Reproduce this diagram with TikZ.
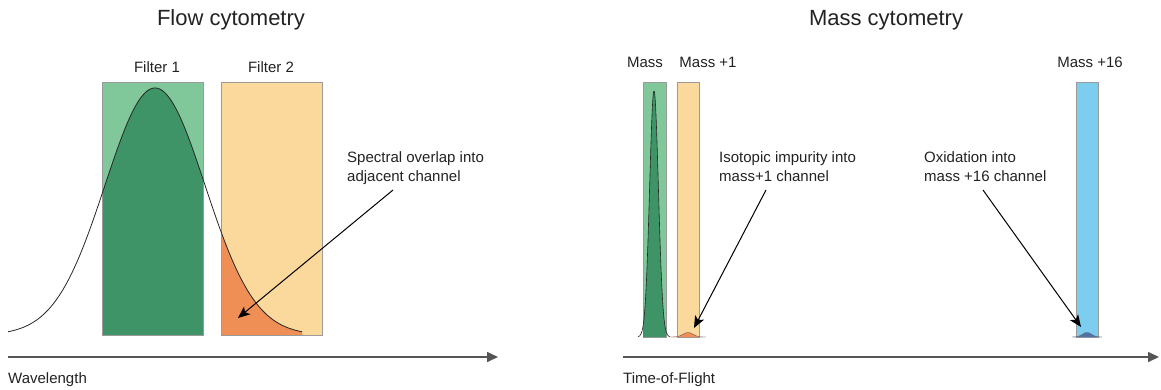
\documentclass[tikz,border=0pt]{standalone}
\usepackage{fontspec}
\setmainfont{Liberation Sans}
\usetikzlibrary{arrows.meta}
\definecolor{lgreen}{HTML}{80C79A}
\definecolor{dgreen}{HTML}{3E9466}
\definecolor{lorange}{HTML}{FBD89C}
\definecolor{dorange}{HTML}{EF8F55}
\definecolor{lblue}{HTML}{7DCDF0}
\definecolor{dblue}{HTML}{4F72A8}
\definecolor{rectgray}{HTML}{9A9A9A}
\definecolor{axisgray}{HTML}{555555}
\definecolor{txt}{HTML}{222222}
\tikzset{
  title/.style={font=\fontsize{22}{26}\selectfont, text=txt, inner sep=0pt},
  lab/.style={font=\fontsize{15}{19}\selectfont, text=txt, inner sep=0pt},
  note/.style={font=\fontsize{15}{19}\selectfont, text=txt, inner sep=0pt, align=left, anchor=north west},
  chan/.style={draw=rectgray, line width=0.8pt, inner sep=0pt, outer sep=0pt, anchor=south west},
  axis/.style={draw=axisgray, line width=1.6pt, -{Stealth[length=11pt,width=10pt,inset=0pt]}},
  pointer/.style={draw=black, line width=1pt, -{Stealth[length=12pt,width=10pt,inset=3pt]}},
  curve/.style={draw=black!85, line width=0.8pt},
}
\begin{document}
\begin{tikzpicture}[x=1pt,y=-1pt]
\useasboundingbox (0,0) rectangle (1161,389);

% ---------------- Flow cytometry ----------------
\node[title] (t1) at (231,20) {Flow cytometry};

\node[chan, fill=lgreen, minimum width=101pt, minimum height=253pt] (f1) at (102,335) {};
\node[chan, fill=lorange, minimum width=101pt, minimum height=253pt] (f2) at (221,335) {};

\begin{scope}
  \clip (f1.south west) rectangle (f1.north east);
  \fill[dgreen] (8,335) -- plot[domain=8:302, samples=150, smooth] (\x,{335-247*exp(-0.5*((\x-155)/50)^2)}) -- (302,335) -- cycle;
\end{scope}
\begin{scope}
  \clip (f2.south west) rectangle (f2.north east);
  \fill[dorange] (8,335) -- plot[domain=8:302, samples=150, smooth] (\x,{335-247*exp(-0.5*((\x-155)/50)^2)}) -- (302,335) -- cycle;
\end{scope}
\draw[chan, fill=none] (f1.south west) rectangle (f1.north east);
\draw[chan, fill=none] (f2.south west) rectangle (f2.north east);
\draw[curve] plot[domain=8:302, samples=150, smooth] (\x,{335-247*exp(-0.5*((\x-155)/50)^2)});

\node[lab] (f1l) at (157,67) {Filter 1};
\node[lab] (f2l) at (271,67) {Filter 2};

\node[note] (n1) at (347,151) {Spectral overlap into\\adjacent channel};
\coordinate (n1s) at (393,190);
\coordinate (n1e) at (238,318);
\draw[pointer] (n1s) -- (n1e);

\coordinate (ax1s) at (8,357);
\coordinate (ax1e) at (498,357);
\draw[axis] (ax1s) -- (ax1e);
\node[lab, anchor=base west] (w) at (8,383) {Wavelength};

% ---------------- Mass cytometry ----------------
\node[title] (t2) at (886,20) {Mass cytometry};

\node[chan, fill=lgreen, minimum width=23pt, minimum height=255pt] (m0) at (643,337) {};
\node[chan, fill=lorange, minimum width=22pt, minimum height=255pt] (m1) at (677,337) {};
\node[chan, fill=lblue, minimum width=22pt, minimum height=255pt] (m16) at (1076,337) {};

\begin{scope}
  \clip (m0.south west) rectangle (m0.north east);
  \fill[dgreen] (638,337) -- plot[domain=638:670, samples=120, smooth] (\x,{337-246*exp(-0.5*((\x-654)/4.4)^2)}) -- (670,337) -- cycle;
\end{scope}
\draw[curve, line width=0.6pt] plot[domain=638:670, samples=120, smooth] (\x,{337-246*exp(-0.5*((\x-654)/4.4)^2)});

\fill[dorange] (670,337) -- plot[domain=670:706, samples=60, smooth] (\x,{337-4.5*exp(-0.5*((\x-688)/5)^2)}) -- (706,337) -- cycle;
\draw[curve, line width=0.4pt, draw=black!60] plot[domain=670:706, samples=60, smooth] (\x,{337-4.5*exp(-0.5*((\x-688)/5)^2)});

\fill[dblue] (1072,337) -- plot[domain=1072:1102, samples=60, smooth] (\x,{337-4.5*exp(-0.5*((\x-1087)/4.5)^2)}) -- (1102,337) -- cycle;
\draw[curve, line width=0.4pt, draw=black!60] plot[domain=1072:1102, samples=60, smooth] (\x,{337-4.5*exp(-0.5*((\x-1087)/4.5)^2)});

\node[lab] (m0l) at (645,62) {Mass};
\node[lab] (m1l) at (708,62) {Mass +1};
\node[lab] (m16l) at (1090,62) {Mass +16};

\node[note] (n2) at (719,151) {Isotopic impurity into\\mass+1 channel};
\coordinate (n2s) at (766,190);
\coordinate (n2e) at (694,328);
\draw[pointer] (n2s) -- (n2e);

\node[note] (n3) at (924,151) {Oxidation into\\mass +16 channel};
\coordinate (n3s) at (983,190);
\coordinate (n3e) at (1081,327);
\draw[pointer] (n3s) -- (n3e);

\coordinate (ax2s) at (623,357);
\coordinate (ax2e) at (1159,357);
\draw[axis] (ax2s) -- (ax2e);
\node[lab, anchor=base west] (tof) at (623,383) {Time-of-Flight};
\end{tikzpicture}
\end{document}
